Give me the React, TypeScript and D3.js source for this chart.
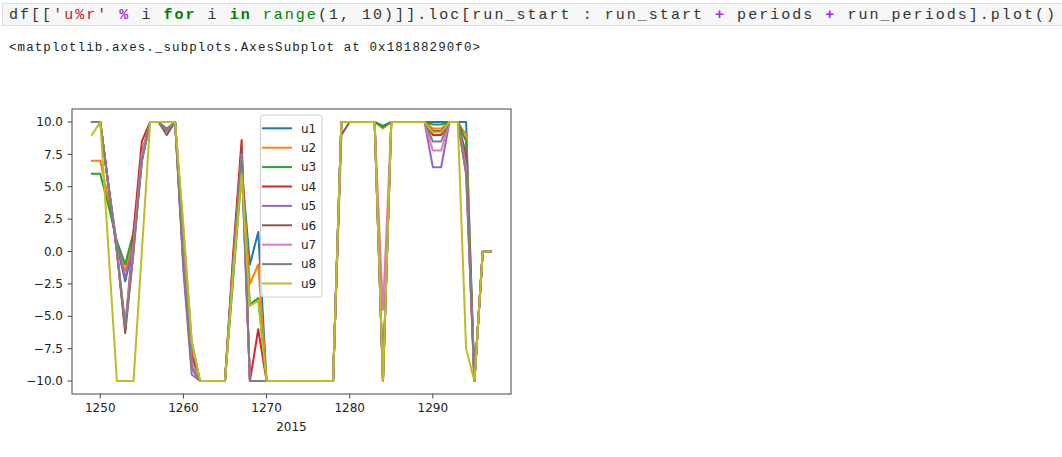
import React from "react";
import * as d3 from "d3";

const periods = [1249,1250,1251,1252,1253,1254,1255,1256,1257,1258,1259,1260,1261,1262,1263,1264,1265,1266,1267,1268,1269,1270,1271,1272,1273,1274,1275,1276,1277,1278,1279,1280,1281,1282,1283,1284,1285,1286,1287,1288,1289,1290,1291,1292,1293,1294,1295,1296,1297];

const u1 = [10,10,5,0.5,-2.3,0.5,7,10,10,10,10,-1,-9,-10,-10,-10,-10,-1,6.5,-1,1.5,-10,-10,-10,-10,-10,-10,-10,-10,-10,10,10,10,10,10,9.7,10,10,10,10,10,10,10,10,10,10,-10,0,0];
const u2 = [7,7,4,0.5,-1.5,1,7.5,10,10,10,10,0.5,-8,-10,-10,-10,-10,-1,6.5,-2.5,-1,-10,-10,-10,-10,-10,-10,-10,-10,-10,10,10,10,10,10,9.5,10,10,10,10,10,9.5,9.5,10,10,9,-10,0,0];
const u3 = [6,6,3.5,0.8,-1,1.5,7.5,10,10,10,10,1.5,-7,-10,-10,-10,-10,-2,6,-4.1,-3.6,-10,-10,-10,-10,-10,-10,-10,-10,-10,10,10,10,10,10,9.6,10,10,10,10,10,9.8,9.8,10,10,8.5,-10,0,0];
const u4 = [10,10,5,0,-6,1.5,8.5,10,10,10,10,0.5,-8,-10,-10,-10,-10,0,8.6,-10,-6,-10,-10,-10,-10,-10,-10,-10,-10,-10,10,10,10,10,10,-10,10,10,10,10,10,9,9,10,10,7,-10,0,0];
const u5 = [10,10,5,0.5,-2,0.5,7,10,10,9.5,10,-1.5,-9.5,-10,-10,-10,-10,-1,7,-10,-10,-10,-10,-10,-10,-10,-10,-10,-10,-10,10,10,10,10,10,-10,10,10,10,10,10,6.5,6.5,10,10,6,-10,0,0];
const u6 = [10,10,5,0,-6.3,0,7.5,10,10,9,10,-0.5,-8.5,-10,-10,-10,-10,-0.5,8,-10,-10,-10,-10,-10,-10,-10,-10,-10,-10,-10,9,10,10,10,10,-10,10,10,10,10,10,9.3,9.3,10,10,7.5,-10,0,0];
const u7 = [10,10,5,0.2,-5.5,0.5,7.5,10,10,10,10,0,-8.5,-10,-10,-10,-10,-1,7.5,-10,-10,-10,-10,-10,-10,-10,-10,-10,-10,-10,10,10,10,10,10,-4.5,10,10,10,10,10,7.8,7.8,10,10,6.5,-10,0,0];
const u8 = [10,10,5,0,-5.8,0,7,10,10,9.3,10,-1,-9,-10,-10,-10,-10,-1,7.5,-10,-10,-10,-10,-10,-10,-10,-10,-10,-10,-10,10,10,10,10,10,-10,10,10,10,10,10,8.5,8.5,10,10,6,-10,0,0];
const u9 = [9,10,0,-10,-10,-10,0,10,10,10,10,2,-7,-10,-10,-10,-10,-1.5,6,-4.2,-3.8,-10,-10,-10,-10,-10,-10,-10,-10,-10,10,10,10,10,10,-10,10,10,10,10,10,9.2,9.2,10,10,-7.5,-10,0,0];

const seriesNames = ["u1","u2","u3","u4","u5","u6","u7","u8","u9"];
const seriesValues = [u1,u2,u3,u4,u5,u6,u7,u8,u9];
const seriesColors = ["#1f77b4","#ff7f0e","#2ca02c","#d62728","#9467bd","#8c564b","#e377c2","#7f7f7f","#bcbd22"];

const xTicks = [1250,1260,1270,1280,1290];
const yTicks = [-10,-7.5,-5,-2.5,0,2.5,5,7.5,10];
const xLabel = "2015";
const outputText = "<matplotlib.axes._subplots.AxesSubplot at 0x18188290f0>";

const codeTokens: [string, string, boolean][] = [
  ["df[[", "#333", false],
  ["'u%r'", "#BA2121", false],
  [" ", "#333", false],
  ["%", "#AA22FF", true],
  [" i ", "#333", false],
  ["for", "#008000", true],
  [" i ", "#333", false],
  ["in", "#008000", true],
  [" ", "#333", false],
  ["range", "#008000", false],
  ["(1, 10)]].loc[run_start : run_start ", "#333", false],
  ["+", "#AA22FF", true],
  [" periods ", "#333", false],
  ["+", "#AA22FF", true],
  [" run_periods].plot()", "#333", false],
];

export default function App() {
  const W = 1062, H = 457;
  const L = 72, R = 511, T = 109, B = 394;
  const [xmin, xmax] = d3.extent(periods) as [number, number];
  const xpad = (xmax - xmin) * 0.05;
  const x = d3.scaleLinear().domain([xmin - xpad, xmax + xpad]).range([L, R]);
  const y = d3.scaleLinear().domain([-11, 11]).range([B, T]);
  const line = d3.line<number>().x((_, i) => x(periods[i])).y((d) => y(d));
  const fmt = (v: number) => d3.format(".1f")(v).replace("-", "\u2212");
  const tickFont = "DejaVu Sans, sans-serif";
  const mono = "Liberation Mono, DejaVu Sans Mono, monospace";

  const legX = 260.5, legY = 115, legW = 61.5, legH = 182;
  const legStep = 19.4;

  return (
    <svg width={W} height={H} style={{ position: "absolute", left: 0, top: 0, background: "#fff" }}>
      <rect x={0} y={0} width={W} height={H} fill="#fff" />
      {/* code cell */}
      <rect x={2.5} y={3.5} width={1062} height={22} fill="#f7f7f7" stroke="#dcdcdc" />
      <text x={9} y={19} fontFamily={mono} fontSize={15} textLength={1046} lengthAdjust="spacing" xmlSpace="preserve" style={{ whiteSpace: "pre" }}>
        {codeTokens.map(([t, c, b], i) => (
          <tspan key={i} fill={c} fontWeight={b ? "bold" : "normal"}>{t}</tspan>
        ))}
      </text>
      <text x={9} y={51} fontFamily={mono} fontSize={12.5} textLength={471} lengthAdjust="spacing" fill="#222">{outputText}</text>

      {/* lines */}
      <g>
        {seriesValues.map((vals, si) => (
          <path key={si} d={line(vals) || ""} fill="none" stroke={seriesColors[si]} strokeWidth={2} strokeLinejoin="round" strokeLinecap="square" />
        ))}
      </g>

      {/* legend */}
      <g>
        <rect x={legX} y={legY} width={legW} height={legH} rx={3} fill="#fff" fillOpacity={0.8} stroke="#cccccc" strokeWidth={1} />
        {seriesNames.map((n, i) => {
          const cy = legY + 13.3 + i * legStep;
          return (
            <g key={n}>
              <line x1={263} x2={291} y1={cy} y2={cy} stroke={seriesColors[i]} strokeWidth={2} strokeLinecap="square" />
              <text x={301} y={cy} dy="0.35em" fontFamily={tickFont} fontSize={12} fill="#222">{n}</text>
            </g>
          );
        })}
      </g>

      {/* frame */}
      <rect x={L} y={T} width={R - L} height={B - T} fill="none" stroke="#444" strokeWidth={1} />

      {/* y ticks */}
      {yTicks.map((t) => (
        <g key={t}>
          <line x1={L - 4.5} x2={L} y1={y(t)} y2={y(t)} stroke="#444" strokeWidth={1} />
          <text x={L - 9} y={y(t)} dy="0.35em" textAnchor="end" fontFamily={tickFont} fontSize={12} fill="#222">{fmt(t)}</text>
        </g>
      ))}
      {/* x ticks */}
      {xTicks.map((t) => (
        <g key={t}>
          <line x1={x(t)} x2={x(t)} y1={B} y2={B + 4.5} stroke="#444" strokeWidth={1} />
          <text x={x(t)} y={B + 18} textAnchor="middle" fontFamily={tickFont} fontSize={12} fill="#222">{t}</text>
        </g>
      ))}
      <text x={(L + R) / 2} y={431} textAnchor="middle" fontFamily={tickFont} fontSize={12} fill="#222">{xLabel}</text>
    </svg>
  );
}
